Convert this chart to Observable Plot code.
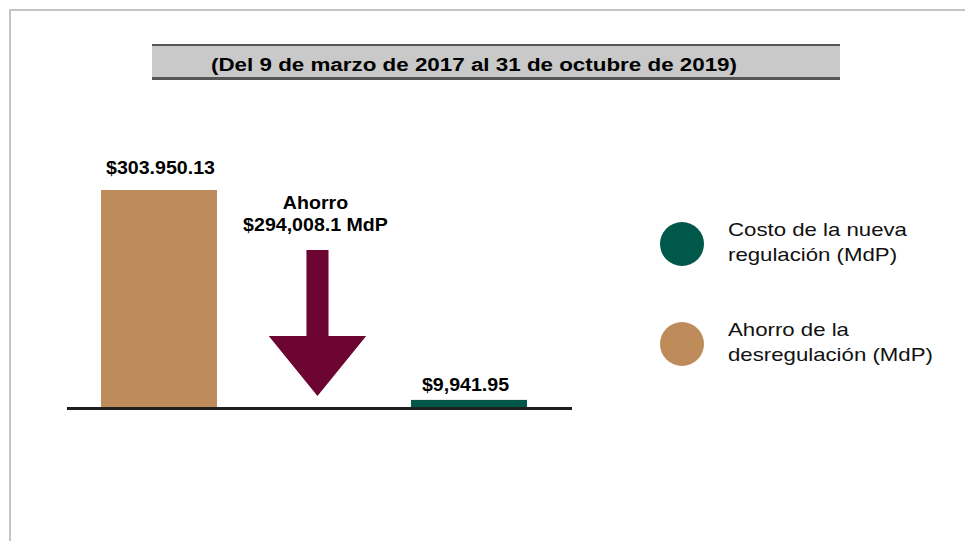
<!DOCTYPE html>
<html>
<head>
<meta charset="utf-8">
<script src="https://cdn.jsdelivr.net/npm/d3@7"></script>
<script src="https://cdn.jsdelivr.net/npm/@observablehq/plot@0.6"></script>
<style>
  body { margin: 0; background: #fff; font-family: "Liberation Sans", Arial, sans-serif; }
  #wrap { position: relative; width: 965px; height: 541px; overflow: hidden; background: #fff; }
  #frame { position: absolute; left: 9px; top: 9px; width: 1200px; height: 1200px; border: 2px solid #c4c4c4; box-sizing: border-box; }
  #chart { position: absolute; left: 0; top: 0; }
  #titlebox { position: absolute; left: 152px; top: 44px; width: 688px; height: 36px; background: #c8c9c8;
              border-top: 2px solid #555; border-bottom: 3px solid #555; box-sizing: border-box; }
  #title { position: absolute; left: 211px; top: 55px; font-weight: bold; font-size: 18px; line-height: 20px;
           white-space: nowrap; color: #000; transform: scaleX(1.243); transform-origin: 0 0; }
  .lg-dot { position: absolute; width: 44px; height: 44px; border-radius: 50%; }
  .lg-txt { position: absolute; font-size: 18.5px; line-height: 25px; white-space: pre; color: #111;
            transform: scaleX(1.2); transform-origin: 0 0; }
</style>
</head>
<body>
<div id="wrap">
  <div id="frame"></div>
  <div id="chart"></div>
  <div id="titlebox"></div>
  <div id="title"></div>
  <div id="legend"></div>
</div>
<script>
// ---- data ----
const categories = ["Ahorro de la desregulación", "Ahorro", "Costo de la nueva regulación"];
const barCategories = ["Ahorro de la desregulación", "Costo de la nueva regulación"];
const barValues = [303950.13, 9941.95];
const barLabels = ["$303.950.13", "$9,941.95"];
const barColors = ["#be8c5a", "#00584a"];
const savingCategory = "Ahorro";
const savingLabel = "Ahorro\n$294,008.1 MdP";
const arrowLevels = [220000, 99500, 15400]; // shaft top, head base, tip (in MdP)
const arrowColor = "#6d0533";
const titleText = "(Del 9 de marzo de 2017 al 31 de octubre de 2019)";
const legendLabels = ["Costo de la nueva\nregulación (MdP)", "Ahorro de la\ndesregulación (MdP)"];
const legendColors = ["#00584a", "#be8c5a"];

const bars = barCategories.map((c, i) => ({cat: c, value: barValues[i], label: barLabels[i], color: barColors[i]}));

const plot = Plot.plot({
  width: 965,
  height: 541,
  marginLeft: 67,
  marginRight: 393,
  marginTop: 190,
  marginBottom: 134,
  style: {background: "transparent", fontFamily: "'Liberation Sans', Arial, sans-serif", color: "#000"},
  x: {domain: categories, axis: null, paddingInner: 0.25, paddingOuter: 0.25, align: 0.43},
  y: {domain: [0, barValues[0]], axis: null},
  color: {type: "identity"},
  marks: [
    Plot.barY(bars, {x: "cat", y: "value", fill: "color"}),
    Plot.ruleY([0], {stroke: "#1f1f1f", strokeWidth: 3, dy: 1}),
    Plot.text(bars.filter(d => d.cat === barCategories[0]), {x: "cat", y: "value", text: "label", lineAnchor: "bottom", dy: -17, dx: 1, fontSize: 17.5, fontWeight: "bold", fill: "#000"}),
    Plot.text(bars.filter(d => d.cat === barCategories[1]), {x: "cat", y: "value", text: "label", lineAnchor: "bottom", dy: -9, dx: -4, fontSize: 17.5, fontWeight: "bold", fill: "#000"}),
    Plot.text([{cat: savingCategory, v: arrowLevels[0], label: savingLabel}], {x: "cat", y: "v", text: "label", lineAnchor: "bottom", lineHeight: 1.3, dy: -19, dx: 1, fontSize: 17.5, fontWeight: "bold", fill: "#000"})
  ]
});

// arrow built from the plot's own scales
const xs = plot.scale("x"), ys = plot.scale("y");
const bx = xs.apply(savingCategory), bw = xs.bandwidth;
const cx = bx + bw * 0.53;
const sw = bw * 0.095, hw = bw * 0.42;
const yTop = ys.apply(arrowLevels[0]), yHead = ys.apply(arrowLevels[1]), yTip = ys.apply(arrowLevels[2]);
const pts = [[cx - sw, yTop], [cx + sw, yTop], [cx + sw, yHead], [cx + hw, yHead], [cx, yTip], [cx - hw, yHead], [cx - sw, yHead]];
d3.select(plot).append("path").attr("d", "M" + pts.map(p => p.join(",")).join("L") + "Z").attr("fill", arrowColor);

// widen label glyphs like the reference
plot.querySelectorAll("g[aria-label='text'] text").forEach(t => {
  const tr = t.getAttribute("transform");
  if (tr) t.setAttribute("transform", tr + " scale(1.12,1)");
});

document.getElementById("chart").appendChild(plot);
document.getElementById("title").textContent = titleText;

const legend = document.getElementById("legend");
legendLabels.forEach((lab, i) => {
  const dot = document.createElement("div");
  dot.className = "lg-dot";
  dot.style.left = "659.5px";
  dot.style.top = (221.5 + i * 100) + "px";
  dot.style.background = legendColors[i];
  legend.appendChild(dot);
  const txt = document.createElement("div");
  txt.className = "lg-txt";
  txt.style.left = "728px";
  txt.style.top = (217 + i * 100) + "px";
  txt.textContent = lab;
  legend.appendChild(txt);
});
</script>
</body>
</html>
